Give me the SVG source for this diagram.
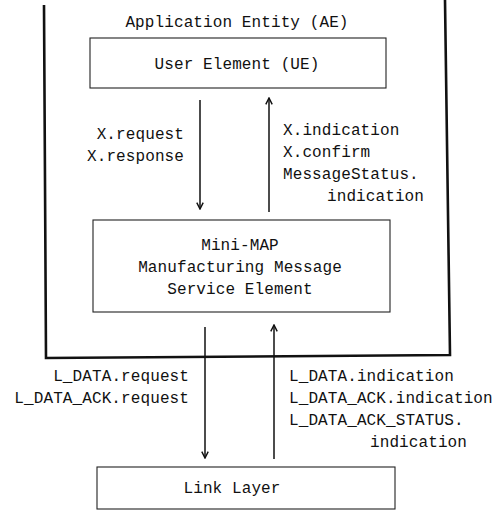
<svg xmlns="http://www.w3.org/2000/svg" width="503" height="514" viewBox="0 0 503 514">
<defs>
<style>
text{font-family:"Liberation Mono","DejaVu Sans Mono",monospace;font-size:16px;letter-spacing:0.1px;fill:#111}
.box{fill:none;stroke:#222;stroke-width:1.1}
.outer{fill:none;stroke:#111;stroke-width:2.6}
.arr{stroke:#111;stroke-width:1.5;fill:none}
.c{text-anchor:middle}
.r{text-anchor:end}
</style>
<marker id="ah" viewBox="0 0 10 10" refX="9" refY="5" markerWidth="8" markerHeight="8" markerUnits="userSpaceOnUse" orient="auto">
<path d="M1,1 L9,5 L1,9" fill="none" stroke="#111" stroke-width="1.8"/>
</marker>
</defs>
<rect width="503" height="514" fill="#fff"/>
<g id="ae">
<path class="outer" d="M44,5 L46,358 L450,355 L445,0"/>
<text class="c" x="237" y="27">Application Entity (AE)</text>
</g>
<g id="ue">
<rect class="box" x="90" y="38" width="296" height="50"/>
<text class="c" x="237" y="69">User Element (UE)</text>
</g>
<g id="mms">
<rect class="box" x="93" y="220" width="297" height="92"/>
<text class="c" x="240" y="250">Mini-MAP</text>
<text class="c" x="240" y="272">Manufacturing Message</text>
<text class="c" x="240" y="294">Service Element</text>
</g>
<g id="link">
<rect class="box" x="97" y="467" width="298" height="42"/>
<text class="c" x="232" y="493">Link Layer</text>
</g>
<g id="connectors">
<line class="arr" x1="200" y1="100" x2="200" y2="209" marker-end="url(#ah)"/>
<line class="arr" x1="269" y1="212" x2="269" y2="98" marker-end="url(#ah)"/>
<line class="arr" x1="205" y1="327" x2="205" y2="458" marker-end="url(#ah)"/>
<line class="arr" x1="274" y1="459" x2="274" y2="325" marker-end="url(#ah)"/>
</g>
<g id="labels">
<text class="r" x="184" y="139">X.request</text>
<text class="r" x="184" y="161">X.response</text>
<text x="283" y="135">X.indication</text>
<text x="283" y="157">X.confirm</text>
<text x="283" y="179">MessageStatus.</text>
<text x="327" y="201">indication</text>
<text class="r" x="189" y="381">L_DATA.request</text>
<text class="r" x="189" y="403">L_DATA_ACK.request</text>
<text x="289" y="381">L_DATA.indication</text>
<text x="289" y="403">L_DATA_ACK.indication</text>
<text x="289" y="425">L_DATA_ACK_STATUS.</text>
<text x="370" y="447">indication</text>
</g>
</svg>
